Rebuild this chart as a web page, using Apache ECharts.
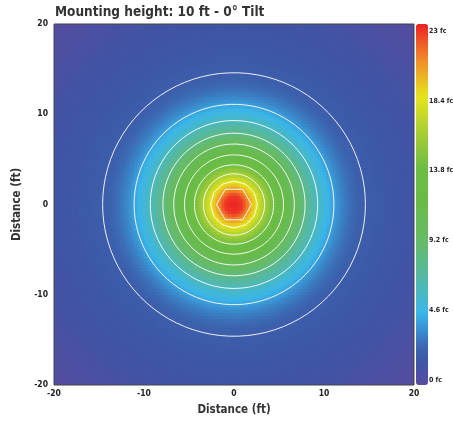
<!DOCTYPE html>
<html><head><meta charset="utf-8">
<script src="https://cdn.jsdelivr.net/npm/echarts@6/dist/echarts.min.js"></script>
<style>html,body{margin:0;padding:0;background:#fff}#c{width:453px;height:427px}</style>
</head><body><div id="c"></div>
<script>
// Radial illuminance profile (fc), at distance 0,1,2,... ft from centre
var profileR = [0,1,2,3,4,5,6,7,8,9,10,11,12,13,14,15,16,17,18,19,20,21,22,23,24,25,26,27,28,29];
var profileFc = [23,22.5,19.6,17,14.8,12.9,11.2,9.5,7.9,6.4,5.2,4.1,3.2,2.6,2.2,1.9,1.7,1.6,1.4,1.3,1.2,1.1,1.0,0.9,0.75,0.6,0.5,0.4,0.3,0.2];
// Contour rings (white lines): level (fc), radius (ft) and number of sides
var contourLevels = [20,18,16,14,12,10,8,6,4,2];
var contourRadii = [1.95,2.6,3.4,4.4,5.5,6.7,7.9,9.3,11.1,14.6];
var contourSides = [6,12,90,90,90,90,90,90,90,90];
var axisTicks = [-20,-10,0,10,20];
var colorbarTicks = [0,4.6,9.2,13.8,18.4,23];
var titleText = 'Mounting height: 10 ft - 0\u00b0 Tilt';

var FONT = '"Liberation Sans Narrow","DejaVu Sans Condensed",sans-serif';
var N = 120, step = 40 / N;
function fcAt(d) {
  for (var k = 0; k < profileR.length - 1; k++) {
    if (d <= profileR[k + 1]) {
      var t = (d - profileR[k]) / (profileR[k + 1] - profileR[k]);
      return profileFc[k] + t * (profileFc[k + 1] - profileFc[k]);
    }
  }
  return profileFc[profileFc.length - 1];
}
var heat = [];
for (var ix = 0; ix < N; ix++) for (var iy = 0; iy < N; iy++) {
  var x = -20 + step * (ix + 0.5), y = -20 + step * (iy + 0.5);
  heat.push([x, y, fcAt(Math.sqrt(x * x + y * y))]);
}
// colour stops (style)
var stops = [[0,'#5a4b9f'],[1.3,'#3e55a6'],[2.3,'#3c62ad'],[3.4,'#3a8bcd'],[4.6,'#3ab7e9'],[6.9,'#55b8a4'],[9.2,'#66bb66'],[11.5,'#68bb4a'],[13.8,'#6cbd44'],[16.1,'#a9cf34'],[18.4,'#e6e41d'],[20.7,'#f08b2a'],[23,'#ed2224']];
function hex2rgb(h){return [parseInt(h.substr(1,2),16),parseInt(h.substr(3,2),16),parseInt(h.substr(5,2),16)];}
var palette = [];
for (var v = 0; v <= 23.0001; v += 0.25) {
  var k = 0; while (k < stops.length - 2 && v > stops[k + 1][0]) k++;
  var a = stops[k], b = stops[k + 1], t = Math.min(1, Math.max(0, (v - a[0]) / (b[0] - a[0])));
  var ca = hex2rgb(a[1]), cb = hex2rgb(b[1]);
  palette.push('rgb(' + [0,1,2].map(function(j){return Math.round(ca[j] + t * (cb[j] - ca[j]));}).join(',') + ')');
}
var contourData = contourRadii.map(function(r, i){ return [0, 0, r, contourSides[i], contourLevels[i]]; });

var chart = echarts.init(document.getElementById('c'), null, {renderer: 'canvas'});
chart.setOption({
  animation: false,
  title: {text: titleText, left: 55, top: 5, padding: 0, textStyle: {fontFamily: FONT, fontWeight: 'bold', fontSize: 13.5, color: '#333'}},
  grid: [
    {left: 54, top: 24, width: 360, height: 361, show: true, borderColor: '#444', borderWidth: 1, backgroundColor: 'transparent', z: 8, outerBoundsMode: 'none'},
    {left: 416, top: 31, width: 12, height: 349, show: false, outerBoundsMode: 'none'}
  ],
  xAxis: [
    {type: 'value', gridIndex: 0, min: -20, max: 20, interval: 10, position: 'bottom',
     name: 'Distance (ft)', nameLocation: 'middle', nameGap: 19,
     nameTextStyle: {fontFamily: FONT, fontWeight: 'bold', fontSize: 11.5, color: '#333'},
     axisLine: {show: false}, axisTick: {show: false}, splitLine: {show: false},
     axisLabel: {fontFamily: FONT, fontWeight: 'bold', fontSize: 8.5, color: '#222', margin: 4}},
    {type: 'value', gridIndex: 1, show: false, min: 0, max: 1}
  ],
  yAxis: [
    {type: 'value', gridIndex: 0, min: -20, max: 20, interval: 10, position: 'left',
     name: 'Distance (ft)', nameLocation: 'middle', nameGap: 23, nameRotate: 90,
     nameTextStyle: {fontFamily: FONT, fontWeight: 'bold', fontSize: 11.5, color: '#333'},
     axisLine: {show: false}, axisTick: {show: false}, splitLine: {show: false},
     axisLabel: {fontFamily: FONT, fontWeight: 'bold', fontSize: 8.5, color: '#222', margin: 6}},
    {type: 'value', gridIndex: 1, min: 0, max: 23, interval: 4.6, position: 'right', z: 10,
     axisLine: {show: false}, axisTick: {show: false}, splitLine: {show: false},
     axisLabel: {fontFamily: FONT, fontWeight: 'bold', fontSize: 7, color: '#222', margin: 1,
       formatter: function(v){ return (Math.round(v * 10) / 10) + ' fc'; }}}
  ],
  visualMap: {
    type: 'continuous', min: 0, max: 23, seriesIndex: 0, dimension: 2, calculable: false,
    left: 416, top: 24, itemWidth: 12, itemHeight: 361, padding: 0, text: null, z: 1,
    inRange: {color: palette}
  },
  series: [
    {type: 'custom', xAxisIndex: 0, yAxisIndex: 0, data: heat, silent: true, progressive: 0,
     clip: true, encode: {x: 0, y: 1},
     renderItem: function(params, api){
       var c = api.coord([api.value(0), api.value(1)]);
       var s = api.size([step, step]);
       return {type: 'rect', shape: {x: c[0] - s[0] / 2 - 0.4, y: c[1] - s[1] / 2 - 0.4, width: s[0] + 0.8, height: s[1] + 0.8},
               style: {fill: api.visual('color')}};
     }},
    {type: 'custom', xAxisIndex: 0, yAxisIndex: 0, data: contourData, silent: true, z: 5,
     encode: {x: 0, y: 1},
     renderItem: function(params, api){
       var c = api.coord([api.value(0), api.value(1)]);
       var s = api.size([api.value(2), api.value(2)]);
       var n = api.value(3), pts = [];
       for (var j = 0; j < n; j++) {
         var ang = 2 * Math.PI * j / n;
         pts.push([c[0] + s[0] * Math.cos(ang), c[1] + s[1] * Math.sin(ang)]);
       }
       return {type: 'polygon', shape: {points: pts},
               style: {fill: 'none', stroke: 'rgba(255,255,255,0.9)', lineWidth: 1}};
     }}
  ]
});
</script></body></html>
